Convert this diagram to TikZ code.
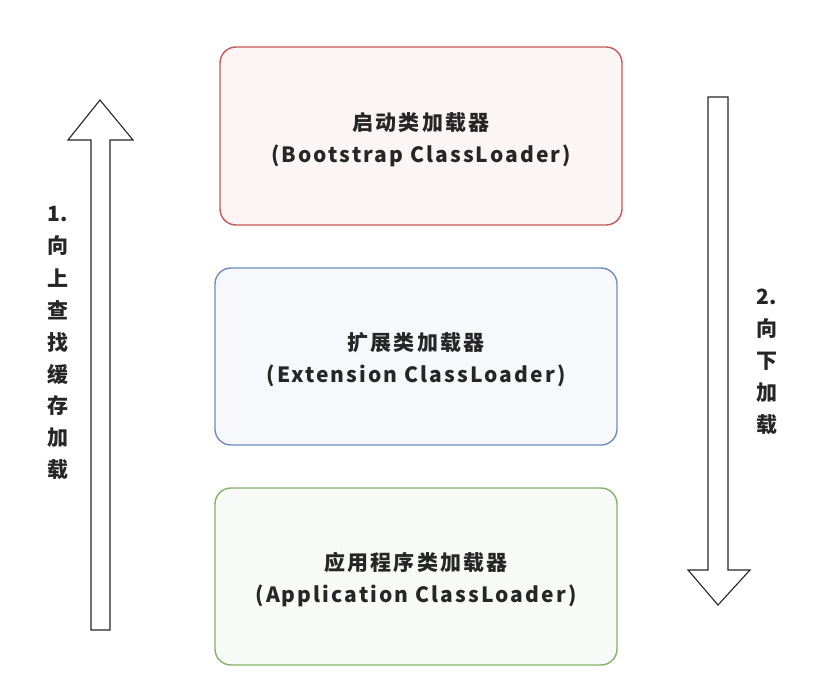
\documentclass[tikz,border=0pt]{standalone}
\usepackage{fontspec}
\setmainfont{Noto Sans CJK SC}
\newfontfamily\boxfont[LetterSpace=10]{Noto Sans CJK SC}
\usetikzlibrary{patterns}
\definecolor{cr}{HTML}{C25A58}
\definecolor{cb}{HTML}{6C8EBF}
\definecolor{cg}{HTML}{82B366}
\begin{document}
\begin{tikzpicture}[x=1pt,y=-1pt]
\useasboundingbox (0,0) rectangle (824,679);
\tikzset{
 box/.style={draw=#1, line width=1.4pt, fill=#1!6, rounded corners=16pt},
 lbl/.style={align=center, font=\boxfont\fontsize{21}{32}\selectfont\bfseries, text=black!85},
 arr/.style={draw=black!85, line width=1.1pt, fill=white},
 vt/.style={font=\fontsize{21}{22}\selectfont\bfseries, text=black!85}
}
\draw[box=cr] (220,47) rectangle (622,225);
\draw[box=cb] (215,268) rectangle (617,445);
\draw[box=cg] (215,488) rectangle (617,665);
\node[lbl] (b) at (421,140) {启动类加载器\\(Bootstrap ClassLoader)};
\node[lbl] (e) at (416,360) {扩展类加载器\\(Extension ClassLoader)};
\node[lbl] (a) at (416,580) {应用程序类加载器\\(Application ClassLoader)};
\draw[arr] (91,630) -- (91,140) -- (68,140) -- (100,100) -- (133,140) -- (110,140) -- (110,630) -- cycle;
\draw[arr] (708,97) -- (708,570) -- (688,570) -- (718,605) -- (750,570) -- (728,570) -- (728,97) -- cycle;
\node[vt] (l0) at (58,214) {1.};
\foreach \c [count=\i] in {向,上,查,找,缓,存,加,载}
  \node[vt] (l\i) at (58,214+32*\i) {\c};
\node[vt] (r0) at (767,297) {2.};
\foreach \c [count=\i] in {向,下,加,载}
  \node[vt] (r\i) at (767,297+32*\i) {\c};
\end{tikzpicture}
\end{document}
